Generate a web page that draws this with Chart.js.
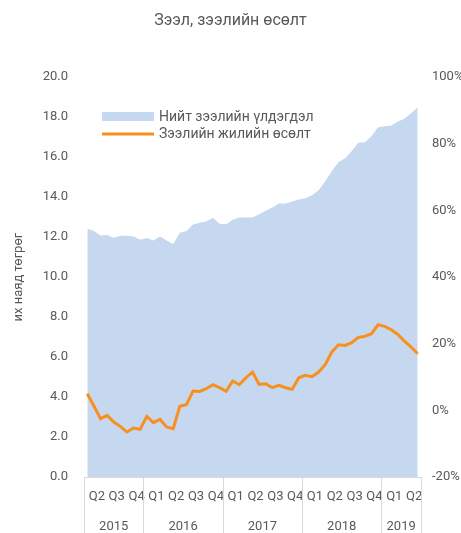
<!DOCTYPE html>
<html>
<head>
<meta charset="utf-8">
<script src="https://cdn.jsdelivr.net/npm/chart.js@4.4.1/dist/chart.umd.min.js"></script>
<style>
  body { margin: 0; background: #fff; }
  #wrap { width: 461px; height: 533px; }
</style>
</head>
<body>
<div id="wrap"><canvas id="Chart1" width="461" height="533"></canvas></div>
<script>
// monthly, Apr 2015 - Jun 2019
var months = ['2015-04','2015-05','2015-06','2015-07','2015-08','2015-09','2015-10','2015-11','2015-12',
  '2016-01','2016-02','2016-03','2016-04','2016-05','2016-06','2016-07','2016-08','2016-09','2016-10','2016-11','2016-12',
  '2017-01','2017-02','2017-03','2017-04','2017-05','2017-06','2017-07','2017-08','2017-09','2017-10','2017-11','2017-12',
  '2018-01','2018-02','2018-03','2018-04','2018-05','2018-06','2018-07','2018-08','2018-09','2018-10','2018-11','2018-12',
  '2019-01','2019-02','2019-03','2019-04','2019-05','2019-06'];

// Нийт зээлийн үлдэгдэл, их наяд төгрөг
var loans = [12.42, 12.3, 12.08, 12.1, 11.97, 12.07, 12.07, 12.03, 11.87,
  11.95, 11.83, 12.03, 11.83, 11.65, 12.22, 12.3, 12.63, 12.72, 12.78, 12.97, 12.67,
  12.65, 12.87, 12.98, 12.98, 12.98, 13.15, 13.32, 13.48, 13.68, 13.68, 13.78, 13.88,
  13.95, 14.1, 14.35, 14.8, 15.3, 15.75, 15.95, 16.3, 16.72, 16.75, 17.05, 17.5,
  17.55, 17.58, 17.78, 17.92, 18.2, 18.5];

// Зээлийн жилийн өсөлт, %
var growth = [5.0, 1.3, -2.5, -1.5, -3.5, -4.8, -6.5, -5.3, -5.7,
  -1.8, -3.7, -2.7, -5.0, -5.5, 1.2, 1.7, 5.8, 5.7, 6.5, 7.7, 6.8,
  5.7, 8.8, 7.7, 9.8, 11.5, 7.8, 8.0, 6.8, 7.5, 6.8, 6.3, 9.8,
  10.5, 10.1, 11.5, 13.7, 17.5, 19.7, 19.5, 20.3, 21.9, 22.2, 23.0, 25.7,
  25.2, 24.2, 22.8, 20.8, 19.0, 17.0];

var quarterLabels = ['Q2','Q3','Q4','Q1','Q2','Q3','Q4','Q1','Q2','Q3','Q4','Q1','Q2','Q3','Q4','Q1','Q2'];
var years = ['2015','2016','2017','2018','2019'];
var yearMonths = [9, 12, 12, 12, 6];

var txtColor = '#595959';
var fontFam = 'Roboto, "Liberation Sans", sans-serif';

// quarter/year labels under the axis + legend inside the plot
var extras = {
  id: 'extras',
  afterDraw: function(chart) {
    var ctx = chart.ctx;
    var x = chart.scales.x;
    var area = chart.chartArea;
    var step = x.getPixelForValue(1) - x.getPixelForValue(0);
    ctx.save();
    ctx.fillStyle = txtColor;
    ctx.font = '13px ' + fontFam;
    ctx.textAlign = 'center';
    ctx.textBaseline = 'middle';
    for (var q = 0; q < quarterLabels.length; q++) {
      ctx.fillText(quarterLabels[q], x.getPixelForValue(q * 3 + 1) + 3, area.bottom + 20);
    }
    ctx.strokeStyle = '#d9d9d9';
    ctx.lineWidth = 1;
    var start = 0;
    for (var i = 0; i <= years.length; i++) {
      var px = Math.round(x.getPixelForValue(start) - step / 2) + 0.5;
      ctx.beginPath();
      ctx.moveTo(px, area.bottom);
      ctx.lineTo(px, chart.height);
      ctx.stroke();
      if (i < years.length) {
        var mid = x.getPixelForValue(start + (yearMonths[i] - 1) / 2);
        ctx.fillText(years[i], mid, area.bottom + 50);
        start += yearMonths[i];
      }
    }
    // legend
    ctx.font = '14px ' + fontFam;
    ctx.textAlign = 'left';
    ctx.fillStyle = '#c6d8f0';
    ctx.fillRect(102, 112, 52, 9);
    ctx.strokeStyle = '#f7901e';
    ctx.lineWidth = 3;
    ctx.beginPath();
    ctx.moveTo(102, 134);
    ctx.lineTo(154, 134);
    ctx.stroke();
    ctx.fillStyle = txtColor;
    ctx.fillText(chart.data.datasets[1].label, 159, 117);
    ctx.fillText(chart.data.datasets[0].label, 159, 134);
    ctx.restore();
  }
};

var ctx = document.getElementById('Chart1').getContext('2d');
var myChart = new Chart(ctx, {
  type: 'line',
  data: {
    labels: months,
    datasets: [{
      label: 'Зээлийн жилийн өсөлт',
      data: growth,
      yAxisID: 'y1',
      borderColor: '#f7901e',
      borderWidth: 3,
      pointRadius: 0,
      fill: false,
      tension: 0,
      order: 0
    }, {
      label: 'Нийт зээлийн үлдэгдэл',
      data: loans,
      yAxisID: 'y',
      borderWidth: 0,
      borderColor: 'rgba(0,0,0,0)',
      backgroundColor: '#c6d8f0',
      pointRadius: 0,
      fill: 'origin',
      tension: 0,
      order: 1
    }]
  },
  options: {
    responsive: false,
    animation: false,
    events: [],
    layout: { padding: 0 },
    plugins: {
      legend: { display: false },
      tooltip: { enabled: false },
      title: {
        display: true,
        text: 'Зээл, зээлийн өсөлт',
        color: txtColor,
        font: { family: fontFam, size: 16, weight: 'normal' },
        padding: { top: 11, bottom: 47 }
      }
    },
    scales: {
      x: {
        type: 'category',
        offset: true,
        grid: { display: false, drawTicks: false },
        border: { display: true, color: '#d9d9d9' },
        ticks: { display: false },
        afterFit: function(s) { s.height = 56; }
      },
      y: {
        position: 'left',
        min: 0, max: 20,
        grid: { display: false, drawTicks: false },
        border: { display: false },
        ticks: {
          stepSize: 2, padding: 16, color: txtColor,
          font: { family: fontFam, size: 13 },
          callback: function(v) { return v.toFixed(1); }
        },
        title: {
          display: true, text: 'их наяд төгрөг', color: txtColor,
          font: { family: fontFam, size: 13 }, padding: { top: 11, bottom: 0 }
        },
        afterFit: function(s) { s.width = 84; }
      },
      y1: {
        position: 'right',
        min: -20, max: 100,
        grid: { display: false, drawTicks: false },
        border: { display: false },
        ticks: {
          stepSize: 20, padding: 11, color: txtColor,
          font: { family: fontFam, size: 13 },
          callback: function(v) { return v + '%'; }
        },
        afterFit: function(s) { s.width = 40; }
      }
    }
  },
  plugins: [extras]
});
</script>
</body>
</html>
